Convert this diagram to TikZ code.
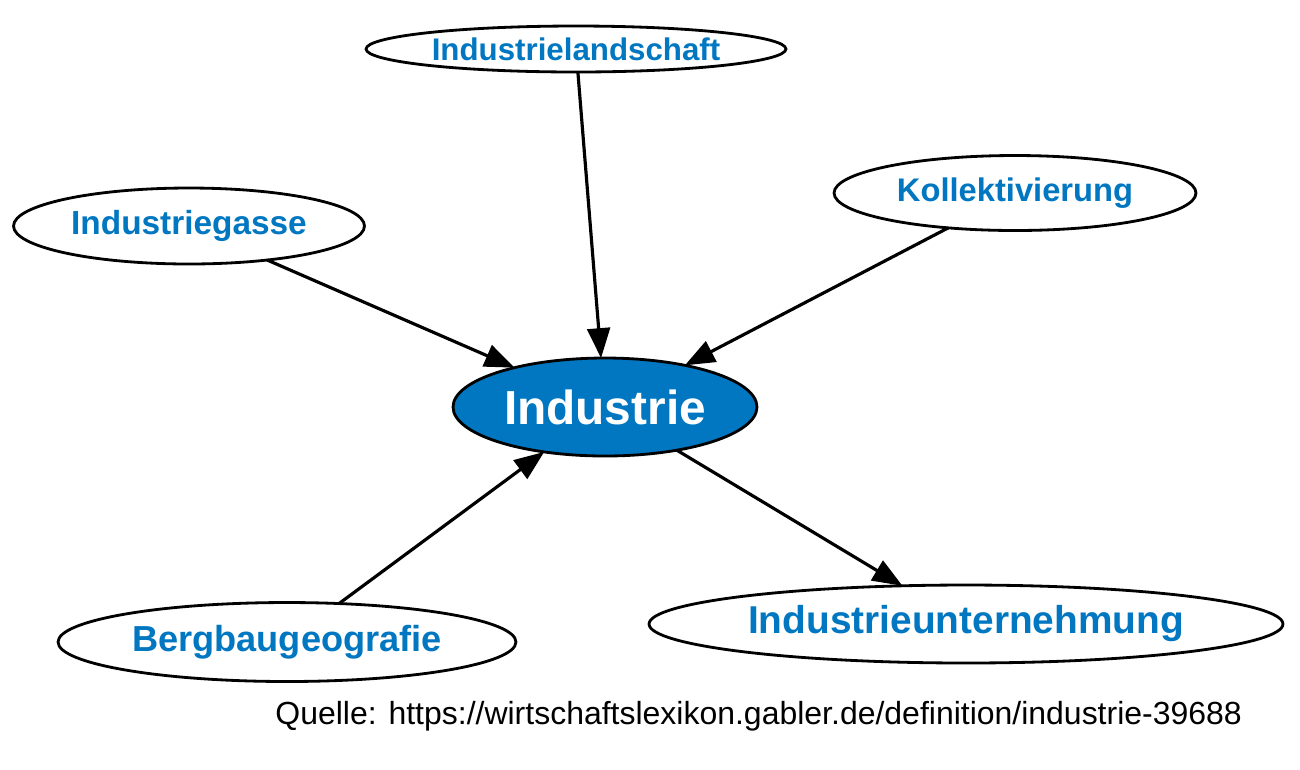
\documentclass[tikz,border=0pt]{standalone}
\usepackage{fontspec}
\setmainfont{Liberation Sans}
\usetikzlibrary{shapes.geometric,arrows.meta}
\definecolor{gablerblue}{RGB}{0,119,192}
\begin{document}
\begin{tikzpicture}[x=0.02cm, y=-0.02cm,
        term/.style={ellipse, draw=black, line width=1.6pt, inner sep=0pt, outer sep=0pt,
            text=gablerblue, font=\bfseries},
        link/.style={line width=1.8pt, -{Triangle[length=17pt, width=13pt]}}]
        % Canvas
        \useasboundingbox (0,0) rectangle (1300,769);

        % Centre term
        \node[term, fill=gablerblue, text=white, minimum width=6.08cm, minimum height=1.96cm,
            font=\bfseries\fontsize{27.2}{30}\selectfont] (industrie) at (605,407) {Industrie};

        % Related terms
        \node[term, minimum width=8.4cm, minimum height=0.92cm, font=\bfseries\fontsize{17.8}{20}\selectfont] (landschaft) at (576,49) {Industrielandschaft};
        \node[term, minimum width=7.24cm, minimum height=1.50cm, font=\bfseries\fontsize{18.6}{21}\selectfont] (kollektiv) at (1015,193) {Kollektivierung};
        \node[term, minimum width=7.02cm, minimum height=1.52cm, font=\bfseries\fontsize{19}{21}\selectfont] (gasse) at (189,226) {Industriegasse};
        \node[term, minimum width=9.16cm, minimum height=1.58cm, font=\bfseries\fontsize{20.6}{23}\selectfont] (bergbau) at (287,642) {Bergbaugeografie};
        \node[term, minimum width=12.68cm, minimum height=1.56cm, font=\bfseries\fontsize{22.1}{25}\selectfont] (unternehmung) at (966,624) {Industrieunternehmung};

        % Edges
        \draw[link] (landschaft) -- (industrie);
        \draw[link] (gasse) -- (industrie);
        \draw[link] (kollektiv) -- (industrie);
        \draw[link] (bergbau) -- (industrie);
        \draw[link] (industrie) -- (unternehmung);

        % Source
        \node[anchor=east, font=\fontsize{18.2}{20}\selectfont] (quelle) at (1248,716) {Quelle: https://wirtschaftslexikon.gabler.de/definition/industrie-39688};
    \end{tikzpicture}
\end{document}
